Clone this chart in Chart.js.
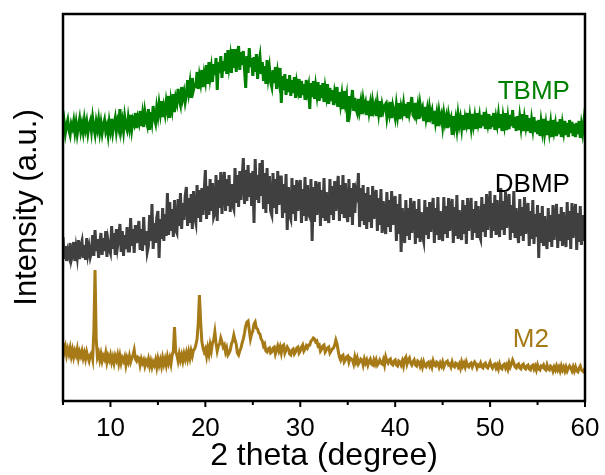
<!DOCTYPE html>
<html>
<head>
<meta charset="utf-8">
<script src="https://cdn.jsdelivr.net/npm/chart.js@4/dist/chart.umd.min.js"></script>
<style>
  html, body { margin: 0; padding: 0; background: #ffffff; }
  #wrap { width: 605px; height: 475px; }
</style>
</head>
<body>
<div id="wrap"><canvas id="xrd" width="605" height="475"></canvas></div>
<script>
// Scan grid: 2θ from 5° to 60° in 0.125° steps (8 readings per degree)
const angleStart = 5;
const angleStep = 0.125;

// Intensities (a.u., offset-stacked patterns), one row per degree
const tbmp = [
  270,279,268,276,281,271,266,277,
  273,280,269,278,267,275,282,270,
  277,269,281,272,279,268,276,280,
  270,283,274,267,279,272,281,269,
  278,268,276,281,270,275,266,279,
  271,282,269,277,283,270,279,273,
  292,272,280,270,284,275,271,283,
  274,286,272,281,277,288,273,283,
  278,290,275,286,274,289,281,276,
  292,271,289,280,295,283,278,293,
  285,297,288,300,284,294,287,299,
  291,305,283,300,292,307,289,303,
  298,312,301,296,314,303,309,299,
  306,321,309,318,303,323,311,316,
  315,329,312,325,318,331,314,327,
  320,336,317,339,324,333,319,337,
  326,343,311,339,328,345,323,340,
  330,348,327,351,335,344,328,352,
  333,352,329,346,355,331,349,336,
  350,331,313,345,328,353,334,343,
  325,344,329,347,322,338,345,327,
  339,320,335,317,341,324,333,319,
  314,331,318,334,312,328,320,333,
  298,325,311,327,306,322,309,326,
  305,321,308,324,303,318,311,322,
  303,320,306,317,301,321,309,315,
  292,318,304,320,302,315,306,319,
  300,316,303,318,299,313,305,317,
  297,313,300,311,296,309,303,314,
  294,309,297,306,292,310,298,305,
  279,305,291,300,311,290,303,292,
  288,302,291,299,287,301,293,298,
  286,300,289,297,285,299,291,296,
  285,298,288,300,284,296,290,295,
  297,284,293,287,299,283,295,289,
  283,296,286,298,282,294,288,297,
  285,297,283,299,288,295,304,286,
  284,298,287,295,282,297,289,293,
  280,294,283,291,279,293,285,290,
  277,290,279,287,275,289,281,286,
  275,287,278,284,273,286,279,283,
  266,285,274,282,272,286,276,283,
  273,286,271,283,277,288,272,284,
  274,287,276,284,272,288,278,285,
  273,286,275,289,272,284,277,287,
  272,285,274,288,271,283,276,286,
  273,287,270,284,276,288,271,283,
  272,286,275,291,273,284,270,285,
  271,284,274,287,270,283,275,286,
  270,283,268,281,272,284,269,280,
  267,281,265,279,270,282,268,277,
  266,280,269,278,264,281,270,277,
  265,279,267,282,264,277,269,280,
  266,278,264,281,268,279,265,277,
  264,278,267,280,263,276,268,279,
  267
];
const dbmp = [
  164,142,155,140,150,145,158,141,
  146,159,140,153,144,161,142,155,
  160,143,156,141,163,147,154,144,
  149,166,145,171,150,162,143,158,
  168,146,163,150,170,144,160,152,
  148,175,152,168,146,172,155,164,
  177,149,170,145,166,152,174,150,
  150,183,155,172,148,176,158,169,
  180,151,172,150,184,156,170,149,
  155,186,160,197,152,178,158,183,
  190,143,182,162,193,160,187,165,
  208,166,199,170,192,164,201,171,
  168,202,175,208,172,198,181,205,
  214,175,203,178,207,172,210,184,
  178,216,183,211,179,213,186,209,
  231,182,215,186,222,190,218,184,
  188,226,180,221,193,229,187,218,
  229,190,222,195,226,189,217,196,
  192,233,198,226,194,230,201,224,
  243,197,231,200,236,204,228,195,
  230,178,242,201,226,198,238,205,
  241,192,228,188,233,197,225,190,
  186,228,193,222,187,230,196,224,
  224,183,217,188,227,171,214,186,
  182,223,187,216,180,221,190,213,
  221,178,212,185,224,180,216,187,
  184,222,160,214,179,220,186,212,
  219,175,211,183,223,180,209,186,
  178,222,186,215,181,220,190,212,
  225,180,216,187,226,183,218,189,
  179,222,184,213,176,218,188,210,
  205,228,174,213,180,216,176,208,
  172,214,179,206,173,215,182,203,
  211,170,203,176,212,168,200,178,
  167,209,174,201,169,210,176,198,
  205,160,197,167,207,149,193,170,
  158,201,165,193,161,203,168,190,
  200,157,192,163,202,159,189,166,
  160,201,166,194,162,199,169,191,
  203,158,193,166,204,161,190,168,
  160,204,167,195,163,203,170,192,
  202,158,194,165,206,162,191,169,
  161,201,167,196,157,203,170,190,
  203,161,192,168,200,163,195,166,
  162,204,169,197,164,207,171,193,
  210,163,198,170,206,166,201,172,
  164,213,171,200,166,209,173,197,
  207,161,196,168,210,163,193,170,
  158,202,165,194,160,204,167,190,
  198,155,190,162,201,157,187,164,
  196,143,188,158,195,155,185,161,
  152,193,159,186,154,196,161,183,
  197,153,187,160,194,155,189,162,
  154,199,161,190,152,198,163,187,
  197,151,188,159,195,156,186,160,
  176
];
const m2 = [
  58,49,54,46,52,47,53,45,
  51,44,50,46,52,43,49,45,
  50,43,48,42,49,44,40,46,
  48,42,70,131,62,44,48,41,
  47,40,45,42,48,39,45,41,
  46,39,44,38,45,41,46,38,
  45,38,43,40,44,36,43,39,
  45,39,43,46,51,42,40,44,
  43,36,42,38,41,35,40,37,
  42,35,40,34,39,36,41,34,
  42,36,41,35,43,37,42,36,
  44,38,43,37,46,50,74,49,
  46,40,47,41,46,40,47,42,
  48,42,49,43,50,45,51,52,
  56,62,78,106,80,60,53,49,
  52,45,53,47,56,50,58,61,
  69,58,50,55,57,63,59,54,
  56,49,53,46,48,51,57,60,
  66,61,57,48,46,50,53,58,
  62,68,75,79,80,71,62,67,
  70,77,79,73,72,68,67,62,
  60,55,57,50,49,52,53,48,
  49,53,54,47,51,55,50,54,
  48,55,56,48,51,54,52,47,
  46,51,52,47,49,53,54,48,
  50,54,56,50,52,55,53,56,
  56,60,61,63,62,59,60,55,
  56,50,52,55,56,49,51,53,
  54,48,50,52,53,56,61,57,
  50,44,41,45,46,39,41,44,
  45,39,43,42,41,37,44,39,
  43,37,39,42,41,36,42,38,
  41,36,40,42,37,36,41,37,
  41,36,38,41,38,37,41,36,
  44,40,38,41,42,37,36,40,
  41,36,35,40,39,36,40,35,
  42,44,37,41,43,38,36,39,
  41,36,35,40,39,35,39,34,
  39,35,34,38,39,35,38,34,
  40,36,35,39,38,34,38,35,
  39,34,37,39,40,36,37,34,
  39,35,34,38,37,34,37,33,
  39,35,38,34,39,35,34,37,
  38,34,37,39,37,33,36,35,
  38,34,33,37,38,34,33,36,
  39,35,33,36,37,33,36,32,
  37,33,32,36,37,33,36,32,
  38,34,37,41,38,34,33,36,
  37,33,32,36,37,33,32,35,
  36,32,31,35,36,32,35,31,
  36,32,31,35,34,36,32,31,
  36,32,31,35,34,30,34,31,
  35,31,34,30,35,31,34,30,
  34,30,33,35,33,30,34,30,
  34,30,29,33,35,31,30,29,
  33
];

const seriesNames = ['TBMP', 'DBMP', 'M2'];
const seriesColors = ['#008000', '#404040', '#A67A17'];
const labelColors = ['#008000', '#000000', '#A67A17'];
// label anchors: [2θ at the left edge of the text, intensity at its baseline]
const labelAnchorX = [50.8, 50.5, 52.4];
const labelAnchorY = [301.7, 209, 54];
const xMajorTicks = [10, 20, 30, 40, 50, 60];
const xMinorTicks = [5, 15, 25, 35, 45, 55];

const FONT = '"Liberation Sans", Arial, Helvetica, sans-serif';

function toPoints(values) {
  return values.map((v, i) => ({ x: angleStart + i * angleStep, y: v }));
}

// Frame, outward tick marks and the curve labels
const decorations = {
  id: 'decorations',
  afterDraw(chart) {
    const { ctx, chartArea: a, scales: { x, y } } = chart;
    ctx.save();
    ctx.strokeStyle = '#000';
    ctx.lineWidth = 2.5;
    ctx.strokeRect(a.left, a.top, a.right - a.left, a.bottom - a.top);
    ctx.lineWidth = 2;
    ctx.beginPath();
    xMajorTicks.forEach(t => {
      const px = x.getPixelForValue(t);
      ctx.moveTo(px, a.bottom); ctx.lineTo(px, a.bottom + 6);
    });
    xMinorTicks.forEach(t => {
      const px = x.getPixelForValue(t);
      ctx.moveTo(px, a.bottom); ctx.lineTo(px, a.bottom + 4);
    });
    ctx.stroke();

    ctx.font = '26px ' + FONT;
    ctx.textAlign = 'left';
    ctx.textBaseline = 'alphabetic';
    seriesNames.forEach((name, i) => {
      ctx.fillStyle = labelColors[i];
      ctx.fillText(name, x.getPixelForValue(labelAnchorX[i]), y.getPixelForValue(labelAnchorY[i]));
    });
    ctx.restore();
  }
};

new Chart(document.getElementById('xrd'), {
  type: 'line',
  data: {
    datasets: [tbmp, dbmp, m2].map((vals, i) => ({
      label: seriesNames[i],
      data: toPoints(vals),
      borderColor: seriesColors[i],
      backgroundColor: seriesColors[i],
      borderWidth: 3,
      pointRadius: 0,
      tension: 0,
      fill: false
    }))
  },
  options: {
    responsive: false,
    animation: false,
    devicePixelRatio: 1,
    layout: { padding: { top: 14, right: 20, left: 0, bottom: 0 } },
    plugins: { legend: { display: false }, tooltip: { enabled: false } },
    scales: {
      x: {
        type: 'linear',
        min: 5,
        max: 60,
        grid: { display: false, drawTicks: false },
        border: { display: false },
        afterBuildTicks(scale) { scale.ticks = xMajorTicks.map(v => ({ value: v })); },
        afterFit(scale) {
          scale.height = 74;
          scale.paddingLeft = 0;
          scale.paddingRight = 0;
        },
        ticks: {
          autoSkip: false,
          maxRotation: 0,
          padding: 12,
          color: '#000',
          font: { family: FONT, size: 26 }
        },
        title: {
          display: true,
          text: '2 theta (degree)',
          color: '#000',
          font: { family: FONT, size: 32 },
          padding: { top: 0, bottom: 0 }
        }
      },
      y: {
        type: 'linear',
        min: 0,
        max: 387,
        grid: { display: false, drawTicks: false },
        border: { display: false },
        ticks: { display: false },
        afterFit(scale) { scale.width = 63; },
        title: {
          display: true,
          text: 'Intensity (a.u.)',
          color: '#000',
          font: { family: FONT, size: 31 },
          padding: { top: 9, bottom: 0 }
        }
      }
    }
  },
  plugins: [decorations]
});
</script>
</body>
</html>
